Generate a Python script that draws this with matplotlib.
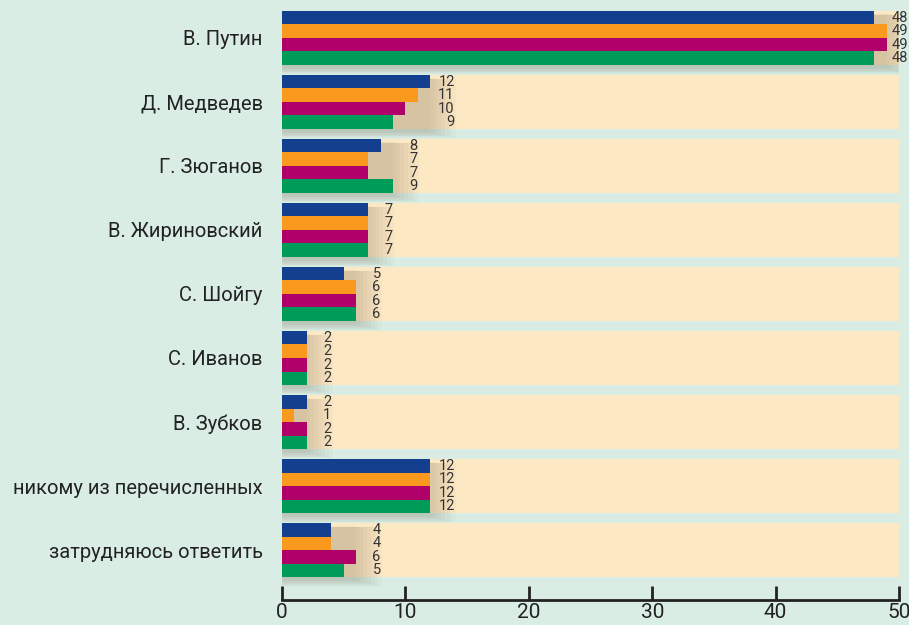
import numpy as np
import matplotlib
matplotlib.use('Agg')
import matplotlib.pyplot as plt

plt.rcParams['font.family'] = ['Roboto', 'DejaVu Sans']

categories = ['В. Путин', 'Д. Медведев', 'Г. Зюганов', 'В. Жириновский',
              'С. Шойгу', 'С. Иванов', 'В. Зубков',
              'никому из перечисленных', 'затрудняюсь ответить']
series_1 = [48, 12, 8, 7, 5, 2, 2, 12, 4]
series_2 = [49, 11, 7, 7, 6, 2, 1, 12, 4]
series_3 = [49, 10, 7, 7, 6, 2, 2, 12, 6]
series_4 = [48, 9, 9, 7, 6, 2, 2, 12, 5]
series = [series_1, series_2, series_3, series_4]
colors = ['#143f8f', '#f99a1f', '#b0006a', '#009b58']
xticks = [0, 10, 20, 30, 40, 50]

bg = '#d9ede5'
panel = '#fde8c4'

fig = plt.figure(figsize=(9.09, 6.25), dpi=100, facecolor=bg)
ax = fig.add_axes([282 / 909, 25 / 625, 617 / 909, 589 / 625])
ax.set_facecolor(bg)

y = np.arange(len(categories))
bh = 0.211
offsets = np.array([-1.5, -0.5, 0.5, 1.5]) * bh

# cream panels behind each group
ax.barh(y, 50, height=0.85, color=panel, zorder=0, linewidth=0)

# soft shadow under each group
maxv = np.max(np.array(series), axis=0)
for k in range(8):
    ax.barh(y + 0.05 + k * 0.008, maxv + 0.3 * k, height=0.84 + k * 0.012,
            color='#6a604a', alpha=0.035, zorder=1, linewidth=0)

# value labels sit just right of the longest bar; keep them inside the figure
label_x = np.minimum(maxv + 2.0, 50.7)

for s, c, off in zip(series, colors, offsets):
    ax.barh(y + off, s, height=bh, color=c, zorder=3, linewidth=0)
    for i, v in enumerate(s):
        ax.text(label_x[i], y[i] + off, str(v), ha='right', va='center',
                fontsize=10.5, color='#333333', zorder=4, clip_on=False)

ax.set_xlim(0, 50)
ax.set_ylim(8.78, -0.42)
ax.set_yticks(y)
ax.set_yticklabels(categories, fontsize=14.5, color='#222222')
ax.tick_params(axis='y', length=0, pad=14)
ax.set_xticks(xticks)
ax.tick_params(axis='x', direction='in', length=10, width=2, color='#222222',
               labelsize=15, labelcolor='#222222', pad=2)

for side in ['top', 'right', 'left']:
    ax.spines[side].set_visible(False)
ax.spines['bottom'].set_linewidth(2)
ax.spines['bottom'].set_color('#222222')

fig.savefig('out.png', dpi=100, facecolor=bg)
